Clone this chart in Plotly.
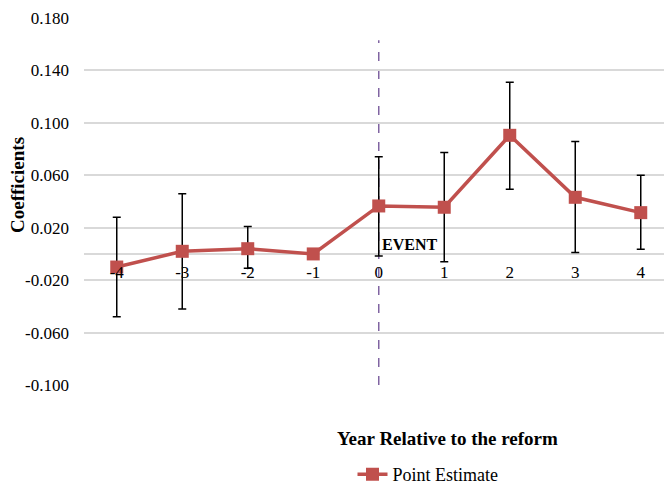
import plotly.graph_objects as go

years = [-4, -3, -2, -1, 0, 1, 2, 3, 4]
estimates = [-0.010, 0.002, 0.004, 0.000, 0.0366, 0.0356, 0.0905, 0.0432, 0.0315]
upper = [0.028, 0.046, 0.021, 0.000, 0.0742, 0.0773, 0.131, 0.0857, 0.060]
lower = [-0.048, -0.042, -0.011, 0.000, -0.0015, -0.006, 0.0494, 0.001, 0.0036]
ytick_vals = [-0.1, -0.06, -0.02, 0.02, 0.06, 0.10, 0.14, 0.18]
ytick_text = ["-0.100", "-0.060", "-0.020", "0.020", "0.060", "0.100", "0.140", "0.180"]

err_plus = [u - e for u, e in zip(upper, estimates)]
err_minus = [e - l for e, l in zip(estimates, lower)]

FONT = "Liberation Serif, Times New Roman, serif"
y_min, y_max = -0.1, 0.18

fig = go.Figure()
fig.add_trace(go.Scatter(
    x=years, y=estimates, mode="lines+markers", name="Point Estimate",
    line=dict(color="#C0504D", width=3.5),
    marker=dict(symbol="square", size=13, color="#C0504D"),
    error_y=dict(type="data", symmetric=False, array=err_plus, arrayminus=err_minus,
                 color="black", thickness=1.5, width=4),
))

fig.add_shape(type="line", x0=0, x1=0, y0=-0.1, y1=0.163, xref="x", yref="y",
              line=dict(color="#8064A2", width=1.5, dash="dash"), layer="below")

fig.add_annotation(x=0, y=0.0075, xref="x", yref="y", text="<b>EVENT</b>",
                   showarrow=False, xanchor="left", yanchor="middle", xshift=1,
                   font=dict(family=FONT, size=16, color="black"))
fig.add_annotation(x=(18 - 84) / 580, y=0.545, xref="paper", yref="paper",
                   text="<b>Coefficients</b>", textangle=-90, showarrow=False,
                   xanchor="center", yanchor="middle",
                   font=dict(family=FONT, size=19, color="black"))
fig.add_annotation(x=(447 - 84) / 580, y=(385 - 438) / 367, xref="paper", yref="paper",
                   text="<b>Year Relative to the reform</b>", showarrow=False,
                   xanchor="center", yanchor="middle",
                   font=dict(family=FONT, size=19, color="black"))

fig.update_layout(
    width=664, height=484,
    margin=dict(l=84, r=0, t=18, b=99, autoexpand=False),
    paper_bgcolor="white", plot_bgcolor="white",
    font=dict(family=FONT, size=17, color="black"),
    showlegend=True,
    legend=dict(orientation="h", x=(428 - 84) / 580, xanchor="center",
                y=(385 - 493) / 367, yanchor="bottom", itemwidth=30,
                font=dict(family=FONT, size=18, color="black")),
    xaxis=dict(range=[-4.5, 4.355], tickvals=years, ticktext=[str(v) for v in years],
               showgrid=False, zeroline=False, anchor="free",
               position=(0 - y_min) / (y_max - y_min), automargin=False,
               showline=False, ticks="", ticklabelstandoff=6,
               tickfont=dict(family=FONT, size=17)),
    yaxis=dict(range=[y_min, y_max], tickvals=ytick_vals, ticktext=ytick_text,
               showgrid=True, gridcolor="#D9D9D9", gridwidth=1.5, automargin=False,
               zeroline=True, zerolinecolor="#D9D9D9", zerolinewidth=1.5,
               showline=False, ticks="", ticklabelstandoff=14,
               tickfont=dict(family=FONT, size=17)),
)

fig.write_html("out.html")
